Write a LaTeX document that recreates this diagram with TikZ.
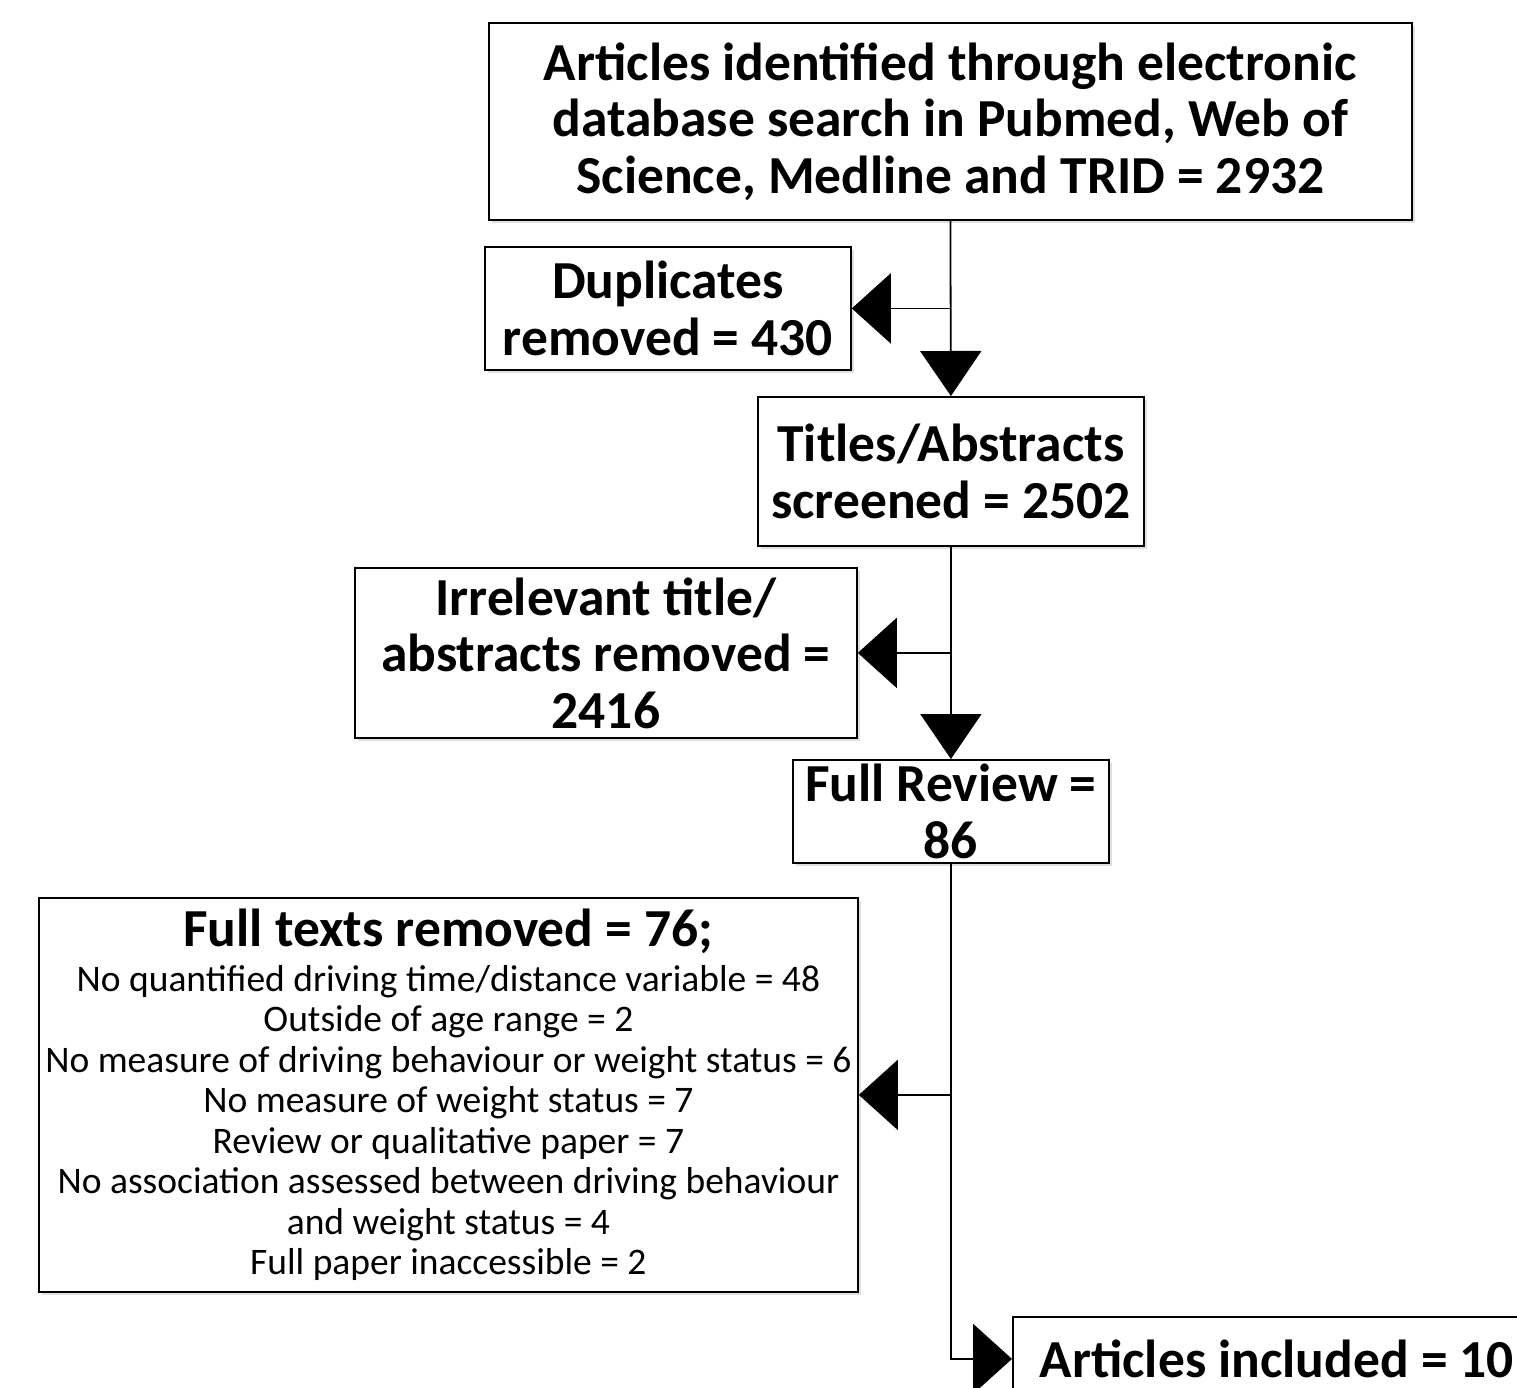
\documentclass[tikz,border=0pt]{standalone}
\usepackage{fontspec}
\setmainfont{Carlito}
\usetikzlibrary{arrows.meta,shadows}
\begin{document}
\begin{tikzpicture}[x=1pt,y=-1pt,
  box/.style={draw=black, line width=1.8pt, fill=white, align=center, inner sep=0pt,
    anchor=north west, drop shadow={shadow xshift=3pt, shadow yshift=-3pt, opacity=0.25}},
  big/.style={font=\fontsize{53.5}{56.5}\selectfont\bfseries},
  small/.style={font=\fontsize{37.5}{40.5}\selectfont},
  conn/.style={line width=1.8pt, draw=black},
  arrL/.style={conn, -{Triangle[length=39pt, width=70pt]}},
  arrD/.style={conn, -{Triangle[length=45pt, width=61pt]}}
]
\clip (0,0) rectangle (1517,1388);
\fill[white] (0,0) rectangle (1517,1388);

\node[box, big, minimum width=923pt, minimum height=197pt] (b1) at (488,22)
  {Articles identified through electronic\\database search in Pubmed, Web of\\Science, Medline and TRID = 2932};
\node[box, big, minimum width=366pt, minimum height=123pt] (dup) at (484,246)
  {Duplicates\\removed = 430};
\node[box, big, minimum width=386pt, minimum height=149pt] (ta) at (757,396)
  {Titles/Abstracts\\screened = 2502};
\node[box, big, minimum width=502pt, minimum height=170pt] (irr) at (354,567)
  {Irrelevant title/\\abstracts removed =\\2416};
\node[box, big, minimum width=316pt, minimum height=103pt] (fr) at (792,759)
  {Full Review =\\86};
\node[box, small, minimum width=819pt, minimum height=394pt] (ft) at (38,897)
  {{\fontsize{53.5}{56}\selectfont\bfseries Full texts removed = 76;}\\[4.5pt]
   No quantified driving time/distance variable = 48\\
   Outside of age range = 2\\
   No measure of driving behaviour or weight status = 6\\
   No measure of weight status = 7\\
   Review or qualitative paper = 7\\
   No association assessed between driving behaviour\\
   and weight status = 4\\
   Full paper inaccessible = 2};
\node[box, big, minimum height=84pt] (inc) at (1012,1316)
  {\makebox[560pt][l]{\hspace*{27pt}Articles included = 10}};

\draw[arrD] (b1.south) -- (ta.north);
\draw[arrL] (b1.south |- dup.east) -- (dup.east);
\draw[arrD] (ta.south) -- (fr.north);
\draw[arrL] (ta.south |- irr.east) -- (irr.east);
\draw[arrL] (fr.south |- ft.east) -- (ft.east);
\draw[arrL] (fr.south) |- (inc.west);
\end{tikzpicture}
\end{document}
